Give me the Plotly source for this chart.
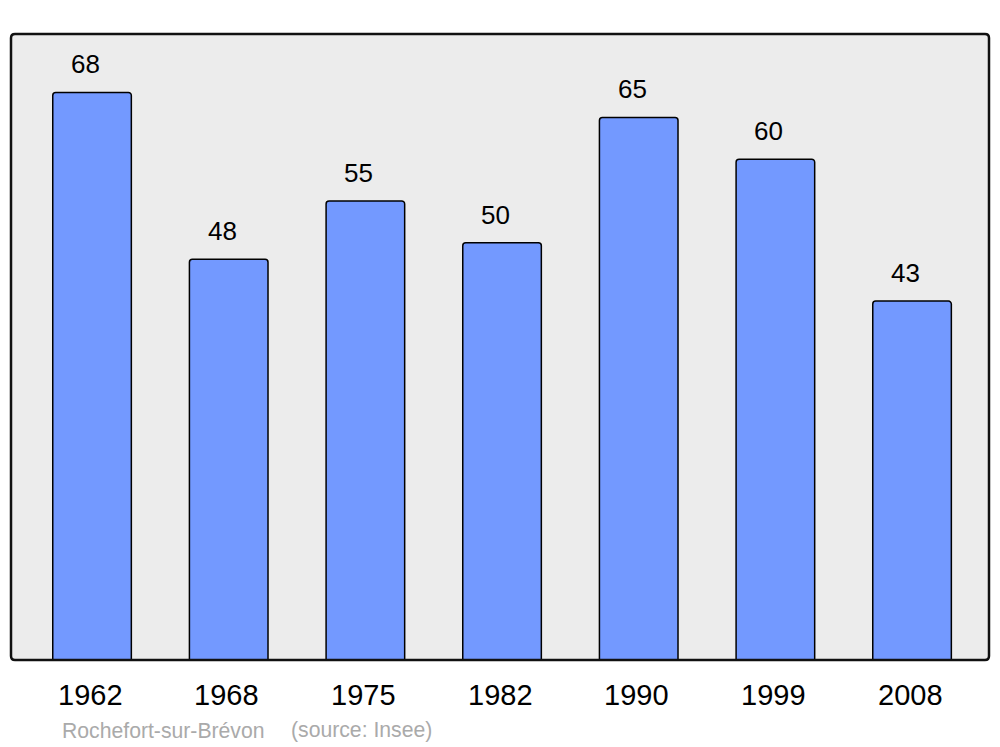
import plotly.graph_objects as go

years = ["1962", "1968", "1975", "1982", "1990", "1999", "2008"]
population = [68, 48, 55, 50, 65, 60, 43]
caption_name = "Rochefort-sur-Brévon"
caption_source = "(source: Insee)"

xpos = list(range(len(years)))
FONT = "Liberation Sans, Arial, sans-serif"

L, R, T, B = 11, 11, 34, 87
W, H = 1000, 747
pw, ph = W - L - R, H - T - B

def px_to_paper(px, py):
    return (px - L) / pw, (H - B - py) / ph

fig = go.Figure()
fig.add_trace(go.Bar(
    x=xpos, y=population, width=0.575,
    marker=dict(color="#7399FF", line=dict(color="#000000", width=1.5), cornerradius=3),
    hoverinfo="skip",
))

for xi, v in zip(xpos, population):
    fig.add_annotation(x=xi, y=v, xref="x", yref="y", text=str(v), showarrow=False,
                       yanchor="middle", yshift=28, xshift=-6.5,
                       font=dict(family=FONT, size=26, color="#000"))

# category labels under the axis
_, ylab = px_to_paper(0, 695)
for xi, yr in zip(xpos, years):
    fig.add_annotation(x=xi, y=ylab, xref="x", yref="paper", text=yr, showarrow=False,
                       yanchor="middle", xshift=-2,
                       font=dict(family=FONT, size=29, color="#000"))

for txt, xp in [(caption_name, 60), (caption_source, 289)]:
    ax, ay = px_to_paper(xp, 730)
    fig.add_annotation(x=ax, y=ay, xref="paper", yref="paper", text=txt,
                       showarrow=False, xanchor="left", yanchor="middle",
                       font=dict(family=FONT, size=21.2, color="#aaaaaa"))

# rounded frame
r = 4
rx, ry = r / pw, r / ph
path = (f"M {rx},0 L {1-rx},0 Q 1,0 1,{ry} L 1,{1-ry} Q 1,1 {1-rx},1 "
        f"L {rx},1 Q 0,1 0,{1-ry} L 0,{ry} Q 0,0 {rx},0 Z")
fig.add_shape(type="path", path=path, xref="paper", yref="paper",
              line=dict(color="#111111", width=2.5), layer="above")

fig.update_layout(
    width=W, height=H,
    margin=dict(l=L, r=R, t=T, b=B),
    paper_bgcolor="#ffffff", plot_bgcolor="#ececec",
    showlegend=False,
    xaxis=dict(range=[-0.593, 6.563], showgrid=False, zeroline=False, showline=False,
               ticks="", showticklabels=False),
    yaxis=dict(range=[0, 75], showgrid=False, zeroline=False, showticklabels=False,
               showline=False, ticks=""),
    font=dict(family=FONT),
)

fig.write_html("out.html", config={"displayModeBar": False},
               post_script="document.body.style.margin='0';")
